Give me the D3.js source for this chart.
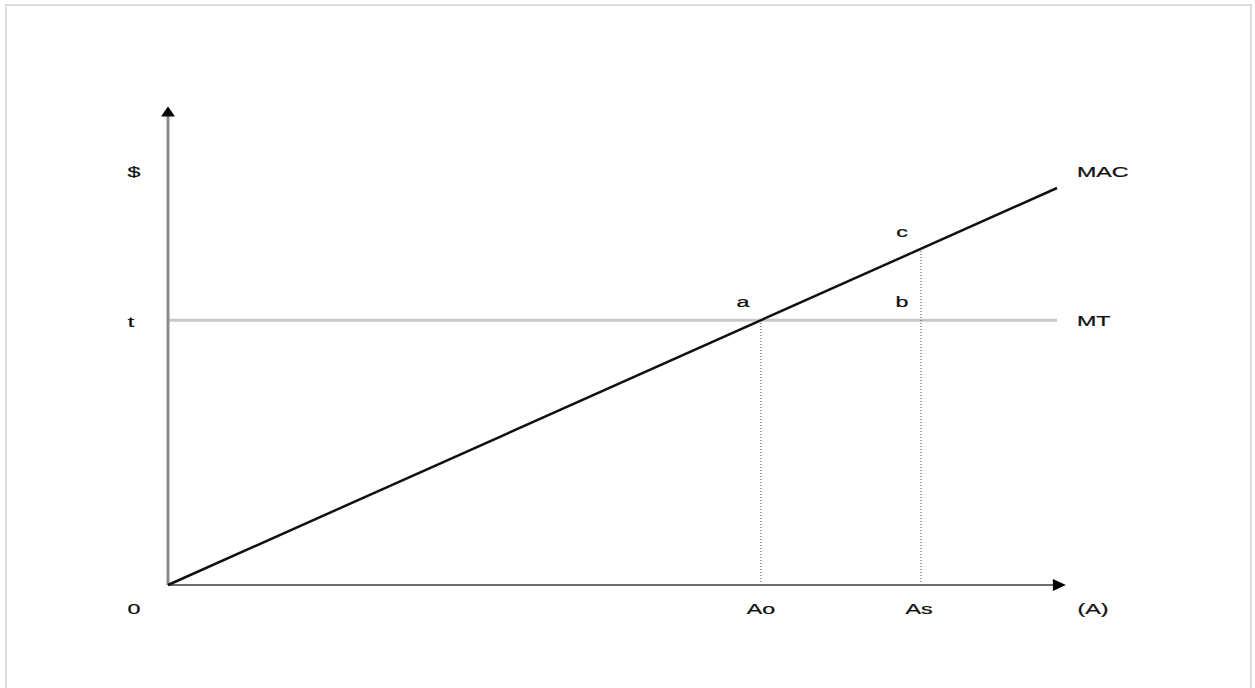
<!DOCTYPE html>
<html lang="en">
<head>
    <meta charset="UTF-8">
    <title>MAC and MT</title>
    <script src="https://d3js.org/d3.v7.min.js"></script>
    <style>
        body { margin: 0; background: #fff; }
        svg text { font-family: "Liberation Sans", Arial, sans-serif; font-size: 15.5px; fill: #111; stroke: #111; stroke-width: 0.25px; }
    </style>
</head>
<body>
    <div id="chart"></div>
    <script>
        // abatement (x) and $ (y) in chart units
        var macLine = [[0, 0], [100, 100]];   // MAC curve
        var tax = 66.7;                        // t / MT level
        var aOpt = 66.7;                       // Ao
        var aStd = 84.7;                       // As
        var xMax = 100, yMax = 100;
        var xAxisEnd = 101, yAxisEnd = 120.5;

        var width = 1255, height = 688;

        var x = d3.scaleLinear().domain([0, xMax]).range([168, 1057]);
        var y = d3.scaleLinear().domain([0, yMax]).range([585, 188]);

        const svg = d3.select("#chart").append("svg")
            .attr("width", width)
            .attr("height", height);

        // frame
        svg.append("rect")
            .attr("x", 6).attr("y", 5)
            .attr("width", 1245).attr("height", 700)
            .attr("fill", "none")
            .attr("stroke", "#dcdcdc")
            .attr("stroke-width", 2);

        // MT line
        svg.append("line")
            .attr("x1", x(0)).attr("x2", x(xMax))
            .attr("y1", y(tax)).attr("y2", y(tax))
            .attr("stroke", "#c8c8c8")
            .attr("stroke-width", 3);

        // dotted drop lines
        var mac = d3.scaleLinear().domain(macLine.map(d => d[0])).range(macLine.map(d => d[1]));
        [[aOpt, tax], [aStd, mac(aStd)]].forEach(function (p) {
            svg.append("line")
                .attr("x1", x(p[0])).attr("x2", x(p[0]))
                .attr("y1", y(0)).attr("y2", y(p[1]))
                .attr("stroke", "#444")
                .attr("stroke-width", 1)
                .attr("stroke-dasharray", "1,2");
        });

        // axes
        svg.append("line")
            .attr("x1", x(0)).attr("x2", x(0))
            .attr("y1", y(0)).attr("y2", y(yAxisEnd) + 8)
            .attr("stroke", "#8c8c8c")
            .attr("stroke-width", 3);
        svg.append("path")
            .attr("d", d3.line()([[x(0) - 7, y(yAxisEnd) + 10], [x(0), y(yAxisEnd)], [x(0) + 7, y(yAxisEnd) + 10]]) + "Z")
            .attr("fill", "#000");

        svg.append("line")
            .attr("x1", x(0)).attr("x2", x(xAxisEnd) - 10)
            .attr("y1", y(0)).attr("y2", y(0))
            .attr("stroke", "#6e6e6e")
            .attr("stroke-width", 2);
        svg.append("path")
            .attr("d", d3.line()([[x(xAxisEnd) - 13, y(0) - 6], [x(xAxisEnd), y(0)], [x(xAxisEnd) - 13, y(0) + 6]]) + "Z")
            .attr("fill", "#000");

        // MAC line
        svg.append("path")
            .datum(macLine)
            .attr("d", d3.line().x(d => x(d[0])).y(d => y(d[1])))
            .attr("fill", "none")
            .attr("stroke", "#111")
            .attr("stroke-width", 2.5);

        // labels (text is stretched horizontally like the original)
        function label(txt, px, py, anchor) {
            svg.append("text")
                .attr("transform", "translate(" + px + "," + py + ") scale(1.5,1)")
                .attr("text-anchor", anchor || "middle")
                .text(txt);
        }
        label("$", x(0) - 34, y(yMax) - 11);
        label("t", x(0) - 37, y(tax) + 7);
        label("0", x(0) - 34, y(0) + 29);
        label("Ao", x(aOpt), y(0) + 29);
        label("As", x(aStd) - 2, y(0) + 29);
        label("(A)", x(xAxisEnd) + 27, y(0) + 29);
        label("MAC", x(xMax) + 20, y(yMax) - 11, "start");
        label("MT", x(xMax) + 20, y(tax) + 6, "start");
        label("a", x(aOpt) - 18, y(tax) - 13);
        label("b", x(aStd) - 19, y(tax) - 13);
        label("c", x(aStd) - 19, y(mac(aStd)) - 12);
    </script>
</body>
</html>
